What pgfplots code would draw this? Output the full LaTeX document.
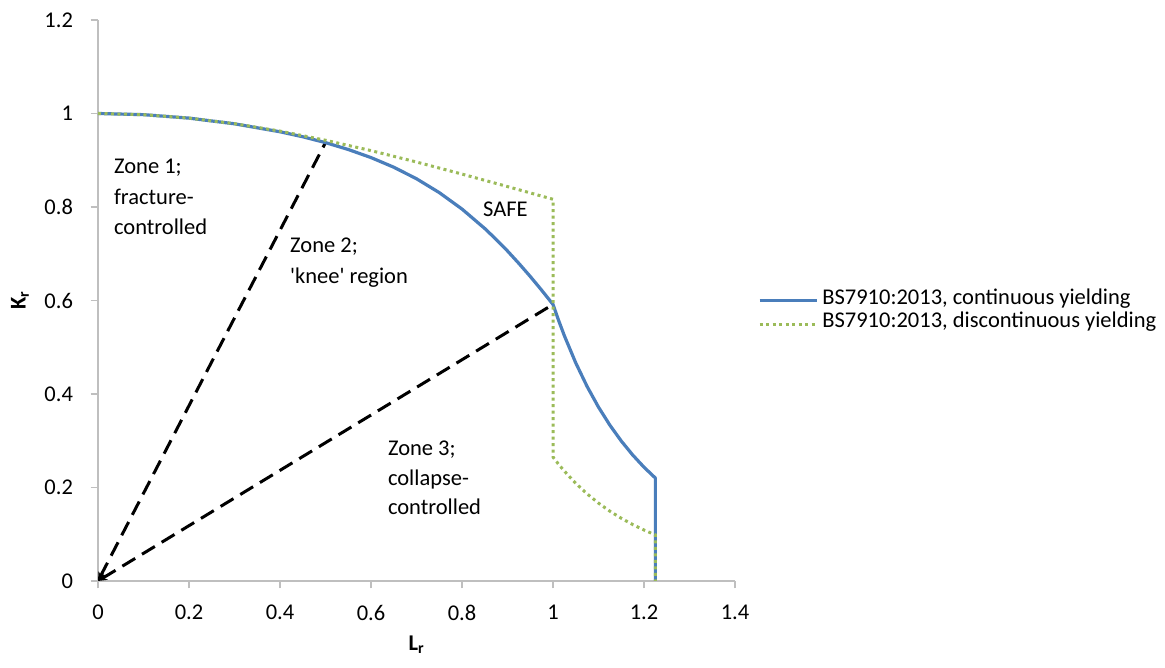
\documentclass[border=0pt]{standalone}
\usepackage{pgfplots}
\pgfplotsset{compat=1.18}
\usepackage{fontspec}
\setmainfont{Carlito}
\newfontfamily\carl{Carlito}
\usetikzlibrary{arrows.meta}
\definecolor{serblue}{HTML}{4A7EBB}
\definecolor{sergreen}{HTML}{9BBB59}
\definecolor{axgray}{HTML}{BFBFBF}
\newcommand{\cfont}{\carl\fontsize{22.5}{30}\selectfont}
\begin{document}
\begin{tikzpicture}
\path[use as bounding box] (-98pt,-87pt) rectangle (1067pt,581pt);
\begin{axis}[
  at={(0pt,0pt)}, anchor=south west,
  scale only axis, width=637pt, height=561pt,
  xmin=0, xmax=1.4, ymin=0, ymax=1.2,
  xtick={0,0.2,0.4,0.6,0.8,1,1.2,1.4},
  ytick={0,0.2,0.4,0.6,0.8,1,1.2},
  axis lines=left,
  axis line style={-, draw=axgray, line width=1.2pt},
  tick style={draw=axgray, line width=1.2pt},
  tick align=outside, major tick length=7.5pt,
  /pgf/number format/assume math mode=true,
  /pgf/number format/fixed,
  tick label style={font=\cfont, text=black},
  xticklabel style={yshift=-13pt},
  yticklabel style={xshift=-14pt},
  xlabel={\textbf{L}\textsubscript{\textbf{r}}},
  ylabel={\textbf{K}\textsubscript{\textbf{r}}},
  xlabel style={at={(axis description cs:0.5,-0.114)}, anchor=center, font=\cfont},
  ylabel style={at={(axis description cs:-0.1225,0.5)}, anchor=center, font=\cfont},
  clip=false,
  legend style={draw=none, fill=none, at={(axis description cs:1.036,0.479)}, anchor=west,
    inner sep=0pt, font=\cfont, row sep=0pt, column sep=4pt,
    nodes={inner sep=0pt, text height=15.5pt, text depth=8pt}},
  legend cell align=left,
  legend image code/.code={\draw[#1] (0pt,0pt) -- (57pt,0pt);},
]
\addplot[forget plot, black, line width=3pt, dash pattern=on 15pt off 8pt, {Stealth[length=9pt,width=8pt]}-] coordinates {(0,0) (0.5,0.9377)};
\addplot[forget plot, black, line width=3pt, dash pattern=on 15pt off 8pt, {Stealth[length=9pt,width=8pt]}-] coordinates {(0,0) (1.0,0.5916)};
\addplot[serblue, line width=3.2pt, line join=round] coordinates {
(0,1) (0.1,0.9975) (0.2,0.9901) (0.3,0.9779) (0.4,0.9609) (0.45,0.9502) (0.5,0.9377) (0.55,0.9230) (0.6,0.9057) (0.65,0.8851) (0.7,0.8604) (0.75,0.8308) (0.8,0.7956) (0.85,0.7540) (0.875,0.7307) (0.9,0.7059) (0.925,0.6793) (0.95,0.6514) (0.975,0.6221) (1.0,0.5916) (1.0125,0.5569) (1.025,0.5246) (1.05,0.4665) (1.075,0.4160) (1.1,0.3719) (1.125,0.3333) (1.15,0.2995) (1.175,0.2697) (1.2,0.2434) (1.225,0.2202) (1.225,0)
};
\addlegendentry{BS7910:2013, continuous yielding}
\addplot[sergreen, line width=3pt, dash pattern=on 3pt off 3.5pt] coordinates {
(0,1) (0.1,0.9975) (0.2,0.9901) (0.3,0.9782) (0.4,0.9623) (0.5,0.9428) (0.6,0.9206) (0.7,0.8962) (0.8,0.8704) (0.9,0.8437) (1.0,0.8165) (1.0,0.265) (1.0125,0.2494) (1.025,0.2350) (1.05,0.2089) (1.075,0.1863) (1.1,0.1666) (1.125,0.1493) (1.15,0.1342) (1.175,0.1208) (1.2,0.1090) (1.225,0.0986) (1.225,0)
};
\addlegendentry{BS7910:2013, discontinuous yielding}
\begin{scope}[every node/.style={font=\cfont, inner sep=0pt, anchor=base west, text=black}]
\node at (axis cs:0.035,0.8706) {Zone 1;};
\node at (axis cs:0.035,0.8064) {fracture-};
\node at (axis cs:0.035,0.7422) {controlled};
\node at (axis cs:0.422,0.7037) {Zone 2;};
\node at (axis cs:0.422,0.6353) {'knee' region};
\node at (axis cs:0.846,0.7786) {SAFE};
\node at (axis cs:0.637,0.2695) {Zone 3;};
\node at (axis cs:0.637,0.2053) {collapse-};
\node at (axis cs:0.637,0.1433) {controlled};
\end{scope}
\end{axis}
\end{tikzpicture}
\end{document}
